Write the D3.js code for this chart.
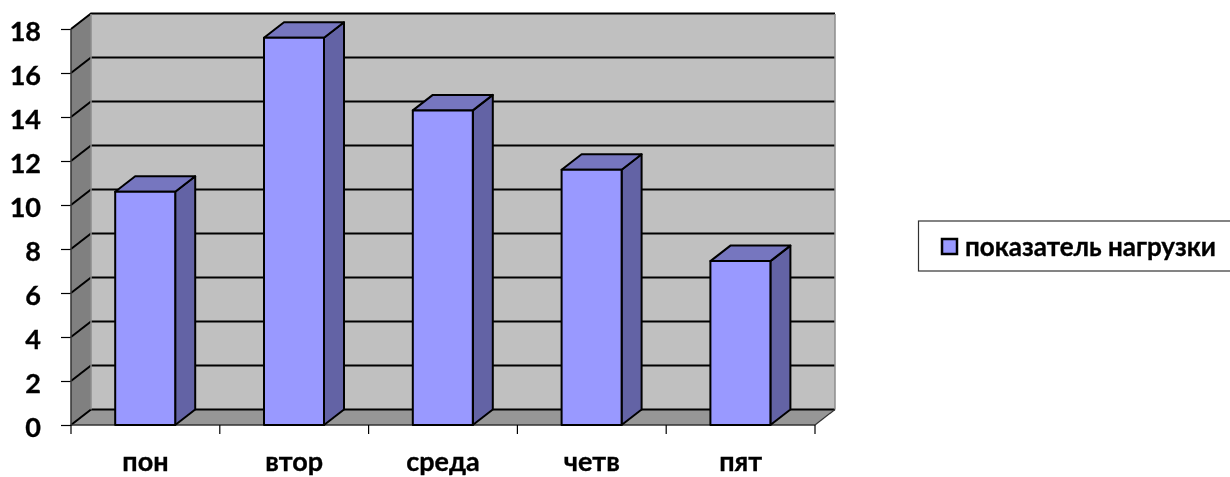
<!DOCTYPE html>
<html>
<head>
<meta charset="utf-8">
<script src="https://cdn.jsdelivr.net/npm/d3@7"></script>
<style>
    html, body { margin: 0; padding: 0; background: #fff; overflow: hidden; }
    svg { display: block; }
    text { font-family: Lato, "Open Sans", sans-serif; font-weight: 700; fill: #000; stroke: #000; stroke-width: 0.35; }
    .axis path { display: none; }
    .axis line { stroke: #000; stroke-width: 1.2; }
    .axis text { font-family: Lato, "Open Sans", sans-serif; font-weight: 700; }
</style>
</head>
<body>
<svg id="chart" width="1230" height="477"></svg>
<script>
var categories = ["пон", "втор", "среда", "четв", "пят"];
var values = [10.6, 17.6, 14.3, 11.6, 7.45];
var yTicks = [0, 2, 4, 6, 8, 10, 12, 14, 16, 18];
var seriesName = "показатель нагрузки";

var svg = d3.select("#chart");

// reference is a slightly soft bitmap
svg.append("defs").append("filter").attr("id", "soft")
    .append("feGaussianBlur").attr("stdDeviation", 0.45);
var root = svg.append("g").attr("filter", "url(#soft)");

var x = d3.scaleBand().domain(categories).range([71, 815]).paddingInner(0).paddingOuter(0);
var y = d3.scaleLinear().domain([0, 18]).range([425, 29]);

// 3d offset of the box
var depthX = 20, depthY = -15.5;
var barWidth = 60;
var yTop = 14; // back wall top edge

function poly(points) {
    return points.map(function (p) { return p.join(","); }).join(" ");
}

// ----- walls
root.append("polygon") // back wall
    .attr("points", poly([[x.range()[0] + depthX, yTop], [x.range()[1] + depthX, yTop],
        [x.range()[1] + depthX, y(0) + depthY], [x.range()[0] + depthX, y(0) + depthY]]))
    .attr("fill", "#c0c0c0");
root.append("polygon") // side wall
    .attr("points", poly([[x.range()[0], y(18)], [x.range()[0] + depthX, yTop],
        [x.range()[0] + depthX, y(0) + depthY], [x.range()[0], y(0)]]))
    .attr("fill", "#808080");
root.append("polygon") // floor
    .attr("points", poly([[x.range()[0], y(0)], [x.range()[0] + depthX, y(0) + depthY],
        [x.range()[1] + depthX, y(0) + depthY], [x.range()[1], y(0)]]))
    .attr("fill", "#969696");

// ----- grid lines
var grid = root.append("g").attr("fill", "none").attr("stroke", "#000").attr("stroke-width", 2);
yTicks.forEach(function (t) {
    var yy = y(t);
    grid.append("polyline")
        .attr("points", poly([[x.range()[0], yy], [x.range()[0] + depthX, yy + depthY],
            [x.range()[1] + depthX, yy + depthY]]));
});

// wall outlines
root.append("line")
    .attr("x1", x.range()[1] + depthX).attr("x2", x.range()[1] + depthX)
    .attr("y1", yTop).attr("y2", y(0) + depthY)
    .attr("stroke", "#8c8c8c").attr("stroke-width", 1.5);
root.append("line")
    .attr("x1", x.range()[1]).attr("y1", y(0))
    .attr("x2", x.range()[1] + depthX).attr("y2", y(0) + depthY)
    .attr("stroke", "#333").attr("stroke-width", 1.2);
root.append("line")
    .attr("x1", x.range()[0] + depthX).attr("x2", x.range()[0] + depthX)
    .attr("y1", yTop).attr("y2", y(0) + depthY)
    .attr("stroke", "#8c8c8c").attr("stroke-width", 1.5);

// ----- axes
var yAxis = d3.axisLeft(y).tickValues(yTicks).tickSize(10).tickPadding(20).tickFormat(d3.format("d"));
var gy = root.append("g").attr("class", "axis").attr("transform", "translate(71,0)").call(yAxis);
gy.selectAll("text").style("font-size", "27px").attr("dy", "0.42em");
root.append("line")
    .attr("x1", 71).attr("x2", 71).attr("y1", y(18)).attr("y2", y(0))
    .attr("stroke", "#333").attr("stroke-width", 1.5);
root.append("line")
    .attr("x1", 71).attr("x2", 815).attr("y1", y(0)).attr("y2", y(0))
    .attr("stroke", "#333").attr("stroke-width", 1.5);

var gx = root.append("g").attr("class", "axis").attr("transform", "translate(0," + y(0) + ")")
    .call(d3.axisBottom(x).tickSize(0).tickPadding(27));
gx.selectAll("text").style("font-size", "27px");
// tick marks sit on the category borders
var xTickPos = x.domain().map(function (c) { return x(c); }).concat([x.range()[1]]);
gx.selectAll(".sep").data(xTickPos).enter().append("line")
    .attr("class", "sep")
    .attr("x1", function (d) { return d; }).attr("x2", function (d) { return d; })
    .attr("y1", 0).attr("y2", 9);

// ----- bars
var bars = root.selectAll(".bar").data(values).enter().append("g").attr("class", "bar")
    .attr("stroke", "#000").attr("stroke-width", 2).attr("stroke-linejoin", "round");

function barLeft(i) {
    return x(categories[i]) + x.bandwidth() / 2 - barWidth / 2 - 0.2;
}

bars.append("polygon") // side
    .attr("fill", "#6363a5")
    .attr("points", function (d, i) {
        var l = barLeft(i) + barWidth;
        return poly([[l, y(d)], [l + depthX, y(d) + depthY], [l + depthX, y(0) + depthY], [l, y(0)]]);
    });
bars.append("polygon") // top
    .attr("fill", "#7676bf")
    .attr("points", function (d, i) {
        var l = barLeft(i);
        return poly([[l, y(d)], [l + depthX, y(d) + depthY], [l + barWidth + depthX, y(d) + depthY], [l + barWidth, y(d)]]);
    });
bars.append("rect") // front
    .attr("fill", "#9999ff")
    .attr("x", function (d, i) { return barLeft(i); })
    .attr("y", function (d) { return y(d); })
    .attr("width", barWidth)
    .attr("height", function (d) { return y(0) - y(d); });

// ----- legend
var legend = root.append("g");
legend.append("rect")
    .attr("x", 918.5).attr("y", 221).attr("width", 320).attr("height", 50)
    .attr("fill", "#fff").attr("stroke", "#333").attr("stroke-width", 1.2);
legend.append("rect")
    .attr("x", 942).attr("y", 239).attr("width", 15).attr("height", 15)
    .attr("fill", "#9999ff").attr("stroke", "#000").attr("stroke-width", 2.5);
legend.append("text")
    .attr("x", 965).attr("y", 256)
    .style("font-size", "26px")
    .text(seriesName);
</script>
</body>
</html>
